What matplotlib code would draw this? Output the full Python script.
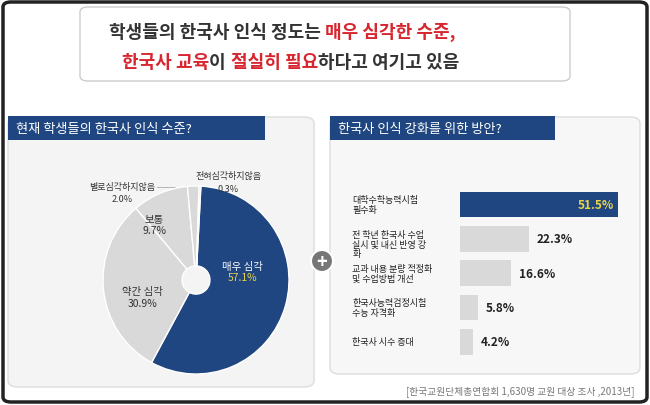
import matplotlib.pyplot as plt
from matplotlib.patches import FancyBboxPatch, Rectangle, Ellipse

plt.rcParams['font.family'] = 'Noto Sans CJK KR'

NAVY = '#1f4680'
GREY = '#d9d9d9'

# pie data
pie_labels = ['매우 심각', '약간 심각', '보통', '별로심각하지않음', '전혀심각하지않음']
pie_values = [57.1, 30.9, 9.7, 2.0, 0.3]

# bar data
bar_labels = ['대학수학능력시험\n필수화', '전 학년 한국사 수업\n실시 및 내신 반영 강\n화',
              '교과 내용 분량 적정화\n및 수업방법 개선', '한국사능력검정시험\n수능 자격화', '한국사 시수 증대']
bar_values = [51.5, 22.3, 16.6, 5.8, 4.2]

W, H = 650, 406
fig = plt.figure(figsize=(6.5, 4.06), dpi=100)
fig.patch.set_facecolor('white')


def fx(x):
    return x / W


def fy(y):
    return 1 - y / H


def rbox(x0, y0, x1, y1, fc, ec, lw=1, pad=6):
    p = FancyBboxPatch((fx(x0), fy(y1)), fx(x1 - x0), (y1 - y0) / H,
                       boxstyle=f'round,pad=0,rounding_size={pad / W}',
                       fc=fc, ec=ec, lw=lw, transform=fig.transFigure, zorder=0)
    fig.add_artist(p)


# outer frame and title box
rbox(3, 3, 647, 403, 'white', '#222222', lw=2.5, pad=8)
rbox(80, 8, 570, 82, 'white', '#cccccc', lw=1, pad=8)
fig.text(0.5, fy(32), '학생들의 한국사 인식 정도는 ', ha='right', va='center', fontsize=13, fontweight='bold', color='#333333')
fig.text(0.5, fy(32), '매우 심각한 수준,', ha='left', va='center', fontsize=13, fontweight='bold', color='#d7262f')
fig.text(fx(122), fy(63), '한국사 교육', ha='left', va='center', fontsize=13, fontweight='bold', color='#d7262f')
fig.text(fx(209), fy(63), '이', ha='left', va='center', fontsize=13, fontweight='bold', color='#333333')
fig.text(fx(231), fy(63), '절실히 필요', ha='left', va='center', fontsize=13, fontweight='bold', color='#d7262f')
fig.text(fx(318), fy(63), '하다고 여기고 있음', ha='left', va='center', fontsize=13, fontweight='bold', color='#333333')

# panels
rbox(8, 118, 314, 388, '#f4f4f4', '#dddddd', lw=1, pad=10)
rbox(330, 118, 640, 375, '#f7f7f7', '#dddddd', lw=1, pad=10)
for x0, x1, t in [(8, 265, '현재 학생들의 한국사 인식 수준?'), (330, 555, '한국사 인식 강화를 위한 방안?')]:
    fig.add_artist(Rectangle((fx(x0), fy(141)), fx(x1 - x0), 24 / H, fc=NAVY, ec='none',
                             transform=fig.transFigure, zorder=0.5))
    fig.text(fx(x0 + 8), fy(129), t, ha='left', va='center', fontsize=9.5, color='white')

# plus circle
fig.add_artist(Ellipse((fx(322), fy(262)), 22 / W, 22 / H, fc='#777777', ec='white', lw=1.5,
                       transform=fig.transFigure, zorder=0.5))
fig.text(fx(322), fy(263), '+', ha='center', va='center', fontsize=13, color='white', fontweight='bold')

# pie
ax = fig.add_axes([fx(103), fy(375), fx(186), 188 / H], zorder=2)
colors = [NAVY, GREY, GREY, GREY, GREY]
ax.pie(pie_values, colors=colors, startangle=87, counterclock=False,
       wedgeprops=dict(width=0.85, edgecolor='white', linewidth=1))
ax.set_xlim(-1, 1)
ax.set_ylim(-1, 1)
ax.set_aspect('auto')
ax.text(0.5, 0.1, pie_labels[0], ha='center', va='bottom', fontsize=7.5, color='white')
ax.text(0.5, 0.08, f'{pie_values[0]}%', ha='center', va='top', fontsize=7.5, color='#e8d24a')
ax.text(-0.58, -0.17, pie_labels[1], ha='center', va='bottom', fontsize=7.5, color='#333333')
ax.text(-0.58, -0.19, f'{pie_values[1]}%', ha='center', va='top', fontsize=7.5, color='#333333')
ax.text(-0.45, 0.6, pie_labels[2], ha='center', va='bottom', fontsize=7.5, color='#333333')
ax.text(-0.45, 0.58, f'{pie_values[2]}%', ha='center', va='top', fontsize=7.5, color='#333333')
ax.axis('off')
fig.text(fx(122), fy(192), pie_labels[3], ha='center', va='bottom', fontsize=6.5, color='#333333')
fig.text(fx(122), fy(195), f'{pie_values[3]}%', ha='center', va='top', fontsize=6.5, color='#333333')
fig.text(fx(228), fy(181), pie_labels[4], ha='center', va='bottom', fontsize=6.5, color='#333333')
fig.text(fx(228), fy(185), f'{pie_values[4]}%', ha='center', va='top', fontsize=6.5, color='#333333')
fig.add_artist(plt.Line2D([fx(157), fx(175), fx(175)], [fy(188), fy(188), fy(200)], color='#aaaaaa', lw=0.6))
fig.add_artist(plt.Line2D([fx(186), fx(186)], [fy(190), fy(198)], color='#aaaaaa', lw=0.6))

# bars
bx = fig.add_axes([fx(460), fy(360), fx(160), 175 / H], zorder=2)
ypos = list(range(len(bar_values)))
bar_colors = [NAVY] + ['#d9d9d9'] * 4
bx.barh(ypos, bar_values, height=0.75, color=bar_colors)
bx.set_xlim(0, 52)
bx.set_ylim(len(bar_values) - 0.5, -0.6)
bx.axis('off')
for i, (v, lab) in enumerate(zip(bar_values, bar_labels)):
    if i == 0:
        bx.text(v - 1.5, i, f'{v}%', ha='right', va='center', fontsize=8.5, fontweight='bold', color='#e8d24a')
    else:
        bx.text(v + 2.5, i, f'{v}%', ha='left', va='center', fontsize=8.5, fontweight='bold', color='#222222')
    bx.text(-35, i + 0.15 if lab.count('\n') == 2 else i, lab, ha='left', va='center', fontsize=6.5,
            color='#222222', linespacing=1.1, fontweight='medium')

fig.text(fx(635), fy(392), '[한국교원단체총연합회 1,630명 교원 대상 조사 ,2013년]', ha='right', va='center',
         fontsize=7, color='#777777')

fig.savefig('out.png', dpi=100)
